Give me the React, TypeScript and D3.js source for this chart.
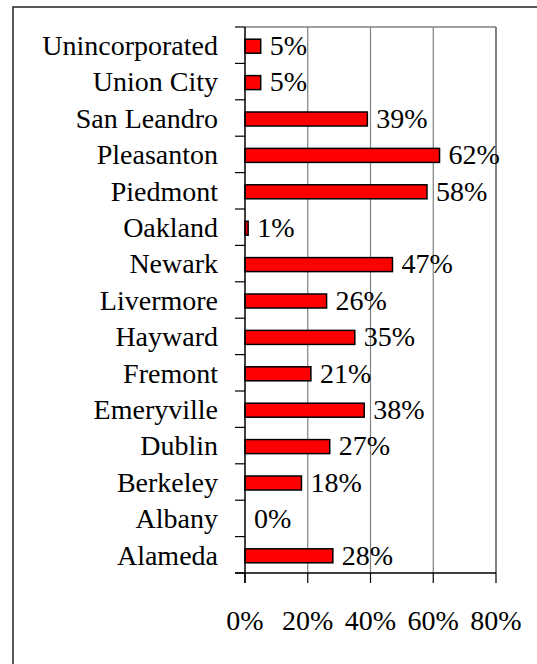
import React from "react";
import * as d3 from "d3";

const categories = [
  "Unincorporated",
  "Union City",
  "San Leandro",
  "Pleasanton",
  "Piedmont",
  "Oakland",
  "Newark",
  "Livermore",
  "Hayward",
  "Fremont",
  "Emeryville",
  "Dublin",
  "Berkeley",
  "Albany",
  "Alameda",
];
const values = [5, 5, 39, 62, 58, 1, 47, 26, 35, 21, 38, 27, 18, 0, 28];
const xTicks = [0, 20, 40, 60, 80];

const W = 537;
const H = 664;
const left = 245;
const right = 496;
const top = 27;
const bottom = 573;
const FONT = "Liberation Serif, Times New Roman, DejaVu Serif, serif";
const FS = 28;
const txt: React.CSSProperties = { fontFamily: FONT, fontSize: FS };

export default function App() {
  const x = d3.scaleLinear().domain([0, 80]).range([left, right]);
  const y = d3.scaleBand<string>().domain(categories).range([top, bottom]).padding(0);
  const bw = y.bandwidth();
  const barH = 14;

  return (
    <svg
      width={W}
      height={H}
      style={{ position: "absolute", left: 0, top: 0, background: "#fff", fontFamily: FONT }}
    >
      {/* outer frame */}
      <rect x={13} y={7} width={W + 20} height={H + 20} fill="#fff" stroke="#222" strokeWidth={1.5} />

      {/* gridlines */}
      {xTicks.slice(1).map((t) => (
        <line
          key={"g" + t}
          x1={x(t)}
          x2={x(t)}
          y1={top}
          y2={bottom}
          stroke="#808080"
          strokeWidth={t === 80 ? 2 : 1.2}
        />
      ))}
      <line x1={left} x2={right} y1={top} y2={top} stroke="#808080" strokeWidth={1.5} />

      {/* bars */}
      {categories.map((c, i) => {
        const cy = (y(c) as number) + bw / 2 + 1;
        const v = values[i];
        return (
          <g key={c}>
            {v > 0 && (
              <rect
                x={x(0)}
                y={cy - barH / 2}
                width={x(v) - x(0)}
                height={barH}
                fill="#ff0000"
                stroke="#000"
                strokeWidth={1.5}
              />
            )}
            <text x={x(v) + 9} y={cy - 1} dy="0.35em" style={txt} fill="#000">
              {v + "%"}
            </text>
            <text x={218} y={cy - 1} dy="0.35em" style={txt} textAnchor="end" fill="#000">
              {c}
            </text>
          </g>
        );
      })}

      {/* y axis */}
      <line x1={left} x2={left} y1={top} y2={bottom + 10} stroke="#000" strokeWidth={1.5} />
      {d3.range(categories.length + 1).map((k) => {
        const yy = top + k * bw;
        return <line key={"yt" + k} x1={left - 10} x2={left} y1={yy} y2={yy} stroke="#000" strokeWidth={1.2} />;
      })}

      {/* x axis */}
      <line x1={left - 10} x2={right} y1={bottom} y2={bottom} stroke="#000" strokeWidth={1.5} />
      {xTicks.map((t) => (
        <g key={"xt" + t}>
          <line x1={x(t)} x2={x(t)} y1={bottom} y2={bottom + 10} stroke="#000" strokeWidth={1.2} />
          <text x={x(t)} y={630} style={txt} textAnchor="middle" fill="#000">
            {t + "%"}
          </text>
        </g>
      ))}
    </svg>
  );
}
